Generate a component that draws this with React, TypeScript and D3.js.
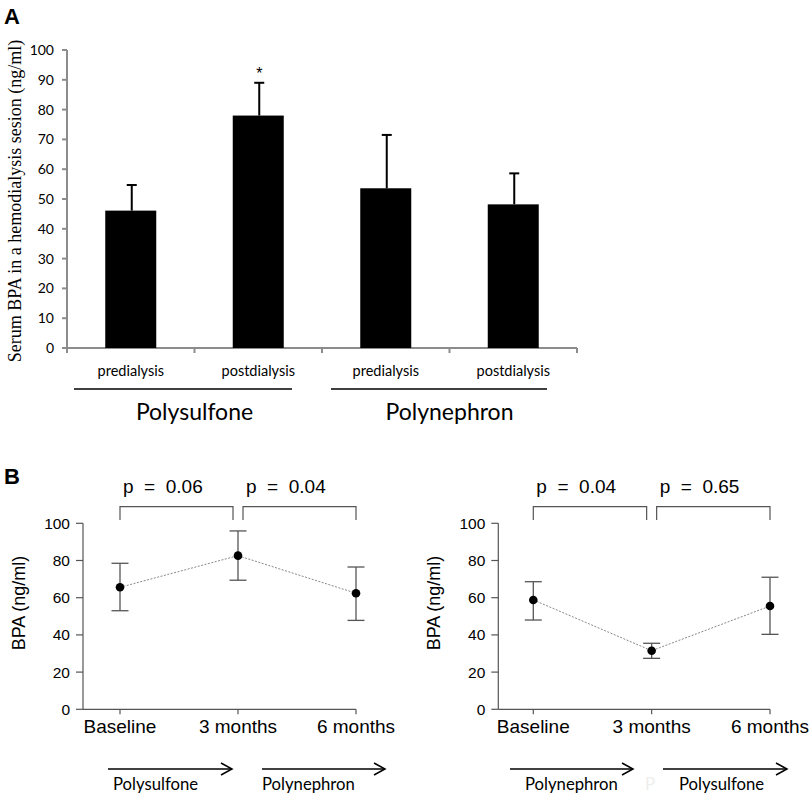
import React from "react";
import * as d3 from "d3";

// Panel A data
const barCategories = ["predialysis", "postdialysis", "predialysis", "postdialysis"];
const barGroups = ["Polysulfone", "Polynephron"];
const barMeans = [46.1, 78.0, 53.6, 48.2];
const barErrors = [8.6, 11.0, 17.9, 10.4];
const barStars = ["", "*", "", ""];

// Panel B data
const timepoints = ["Baseline", "3 months", "6 months"];
const leftMeans = [65.6, 82.6, 62.4];
const leftUpper = [78.5, 95.9, 76.5];
const leftLower = [53.0, 69.4, 47.8];
const leftP = ["0.06", "0.04"];
const leftArrows = ["Polysulfone", "Polynephron"];

const rightMeans = [58.8, 31.5, 55.5];
const rightUpper = [68.6, 35.5, 71.0];
const rightLower = [48.0, 27.4, 40.3];
const rightP = ["0.04", "0.65"];
const rightArrows = ["Polynephron", "Polysulfone"];

const calibri = "Lato, 'Open Sans', sans-serif";
const arial = "'Liberation Sans', Arial, sans-serif";

function PanelA() {
  const x = d3.scaleBand<number>().domain(d3.range(barCategories.length)).range([67, 577]);
  const y = d3.scaleLinear().domain([0, 100]).range([348, 50]);
  const barW = x.bandwidth() * 0.4;
  const axisCol = "#8c8c8c";
  return (
    <g>
      <text x={4} y={24} fontFamily={arial} fontWeight="bold" fontSize={22}>A</text>
      <text
        transform={`translate(21,201) rotate(-90)`}
        textAnchor="middle"
        fontFamily="'Liberation Serif', 'Times New Roman', serif"
        fontSize={18}
      >
        Serum BPA in a hemodialysis sesion (ng/ml)
      </text>
      {y.ticks(10).map((t) => (
        <g key={t}>
          <line x1={62} x2={67} y1={y(t)} y2={y(t)} stroke={axisCol} strokeWidth={2} />
          <text x={54} y={y(t)} dy="0.35em" textAnchor="end" fontFamily={calibri} fontSize={14}>
            {t}
          </text>
        </g>
      ))}
      <line x1={67} x2={67} y1={y(100)} y2={y(0) + 1} stroke={axisCol} strokeWidth={2} />
      <line x1={66} x2={577} y1={y(0)} y2={y(0)} stroke={axisCol} strokeWidth={2} />
      {d3.range(barCategories.length + 1).map((i) => {
        const xx = i < barCategories.length ? (x(i) as number) : 577;
        return <line key={i} x1={xx} x2={xx} y1={y(0)} y2={y(0) + 5} stroke={axisCol} strokeWidth={2} />;
      })}
      {barMeans.map((m, i) => {
        const cx = (x(i) as number) + x.bandwidth() / 2;
        const top = y(m + barErrors[i]);
        return (
          <g key={i}>
            <line x1={cx + 1} x2={cx + 1} y1={y(m)} y2={top} stroke="#000" strokeWidth={2} />
            <line x1={cx - 4} x2={cx + 6} y1={top} y2={top} stroke="#000" strokeWidth={2} />
            <rect x={cx - barW / 2} y={y(m)} width={barW} height={y(0) - y(m)} fill="#000" />
            {barStars[i] && (
              <text x={cx + 1} y={top - 4} textAnchor="middle" fontFamily={arial} fontSize={16}>
                {barStars[i]}
              </text>
            )}
            <text x={cx} y={371} dy="0.35em" textAnchor="middle" fontFamily={calibri} fontSize={14.5}>
              {barCategories[i]}
            </text>
          </g>
        );
      })}
      {barGroups.map((g, gi) => {
        const x0 = x(gi * 2) as number;
        const x1 = (x(gi * 2 + 1) as number) + x.bandwidth();
        const cx = (x0 + x1) / 2;
        return (
          <g key={g}>
            <line x1={x0 + 7 + gi * 2} x2={x1 - 30} y1={389} y2={389} stroke="#000" strokeWidth={1.5} />
            <text x={cx} y={412} dy="0.35em" textAnchor="middle" fontFamily={calibri} fontSize={23}>
              {g}
            </text>
          </g>
        );
      })}
    </g>
  );
}

type LineProps = {
  range: [number, number];
  axisX: number;
  means: number[];
  upper: number[];
  lower: number[];
  pvals: string[];
  arrows: string[];
  arrowSpans: [number, number][];
  labelOffsets: number[];
  faintP?: number;
};

function LinePanel(props: LineProps) {
  const { range, axisX, means, upper, lower, pvals, arrows, arrowSpans, labelOffsets, faintP } = props;
  const x = d3.scalePoint<string>().domain(timepoints).range(range);
  const y = d3.scaleLinear().domain([0, 100]).range([709.3, 523.3]);
  const gray = "#555";
  const line = d3
    .line<number>()
    .x((_, i) => x(timepoints[i]) as number)
    .y((d) => y(d));
  const xs = timepoints.map((t) => x(t) as number);
  const brackets: [number, number][] = [
    [xs[0], xs[1] - 5],
    [xs[1] + 5, xs[2]],
  ];
  return (
    <g>
      <text
        transform={`translate(${axisX - 58},${603}) rotate(-90)`}
        textAnchor="middle"
        fontFamily={arial}
        fontSize={18}
      >
        BPA (ng/ml)
      </text>
      {y.ticks(5).map((t) => (
        <g key={t}>
          <line x1={axisX - 7} x2={axisX} y1={y(t)} y2={y(t)} stroke={gray} strokeWidth={1.2} />
          <text x={axisX - 13} y={y(t)} dy="0.35em" textAnchor="end" fontFamily={arial} fontSize={15.5}>
            {t}
          </text>
        </g>
      ))}
      <line x1={axisX} x2={axisX} y1={y(100)} y2={y(0)} stroke={gray} strokeWidth={1.2} />
      <line x1={axisX} x2={range[1]} y1={y(0)} y2={y(0)} stroke={gray} strokeWidth={1.2} />
      {timepoints.map((t) => (
        <g key={t}>
          <line x1={x(t)} x2={x(t)} y1={y(0)} y2={y(0) + 5} stroke={gray} strokeWidth={1.2} />
          <text x={x(t)} y={726} dy="0.35em" textAnchor="middle" fontFamily={arial} fontSize={19}>
            {t}
          </text>
        </g>
      ))}
      <path d={line(means) || ""} fill="none" stroke="#888" strokeWidth={1} strokeDasharray="2,1.5" />
      {means.map((m, i) => (
        <g key={i}>
          <line x1={xs[i]} x2={xs[i]} y1={y(upper[i])} y2={y(lower[i])} stroke={gray} strokeWidth={1.3} />
          <line x1={xs[i] - 8.5} x2={xs[i] + 8.5} y1={y(upper[i])} y2={y(upper[i])} stroke={gray} strokeWidth={1.3} />
          <line x1={xs[i] - 8.5} x2={xs[i] + 8.5} y1={y(lower[i])} y2={y(lower[i])} stroke={gray} strokeWidth={1.3} />
          <circle cx={xs[i]} cy={y(m)} r={4.3} fill="#000" />
        </g>
      ))}
      {brackets.map(([a, b], i) => (
        <g key={i}>
          <path d={`M${a},520V506.7H${b}V520`} fill="none" stroke={gray} strokeWidth={1.2} />
          <text x={a + 3} y={493} fontFamily={arial} fontSize={19} style={{ whiteSpace: "pre" }}>
            {`p  =  ${pvals[i]}`}
          </text>
        </g>
      ))}
      {arrowSpans.map(([a, b], i) => (
        <g key={i}>
          <line x1={a} x2={b} y1={769} y2={769} stroke="#000" strokeWidth={1.5} />
          <path d={`M${b - 11},763L${b},769L${b - 11},775`} fill="none" stroke="#000" strokeWidth={1.5} />
          <text x={a + labelOffsets[i]} y={784} dy="0.35em" fontFamily={calibri} fontSize={16.7}>
            {arrows[i]}
          </text>
        </g>
      ))}
      {faintP !== undefined && (
        <text x={faintP} y={784} dy="0.35em" fontFamily={calibri} fontSize={16.7} fill="#eeeeee">
          P
        </text>
      )}
    </g>
  );
}

export default function App() {
  return (
    <svg
      width={810}
      height={793}
      style={{ position: "absolute", left: 0, top: 0, background: "#fff" }}
    >
      <rect width={810} height={793} fill="#fff" />
      <PanelA />
      <text x={4} y={484} fontFamily={arial} fontWeight="bold" fontSize={22}>B</text>
      <LinePanel
        range={[120, 356]}
        axisX={83}
        means={leftMeans}
        upper={leftUpper}
        lower={leftLower}
        pvals={leftP}
        arrows={leftArrows}
        arrowSpans={[[108, 232], [262, 385]]}
        labelOffsets={[5, 0]}
      />
      <LinePanel
        range={[533.3, 770]}
        axisX={498.3}
        means={rightMeans}
        upper={rightUpper}
        lower={rightLower}
        pvals={rightP}
        arrows={rightArrows}
        arrowSpans={[[510, 633], [663, 787]]}
        labelOffsets={[15, 16]}
        faintP={645}
      />
    </svg>
  );
}
